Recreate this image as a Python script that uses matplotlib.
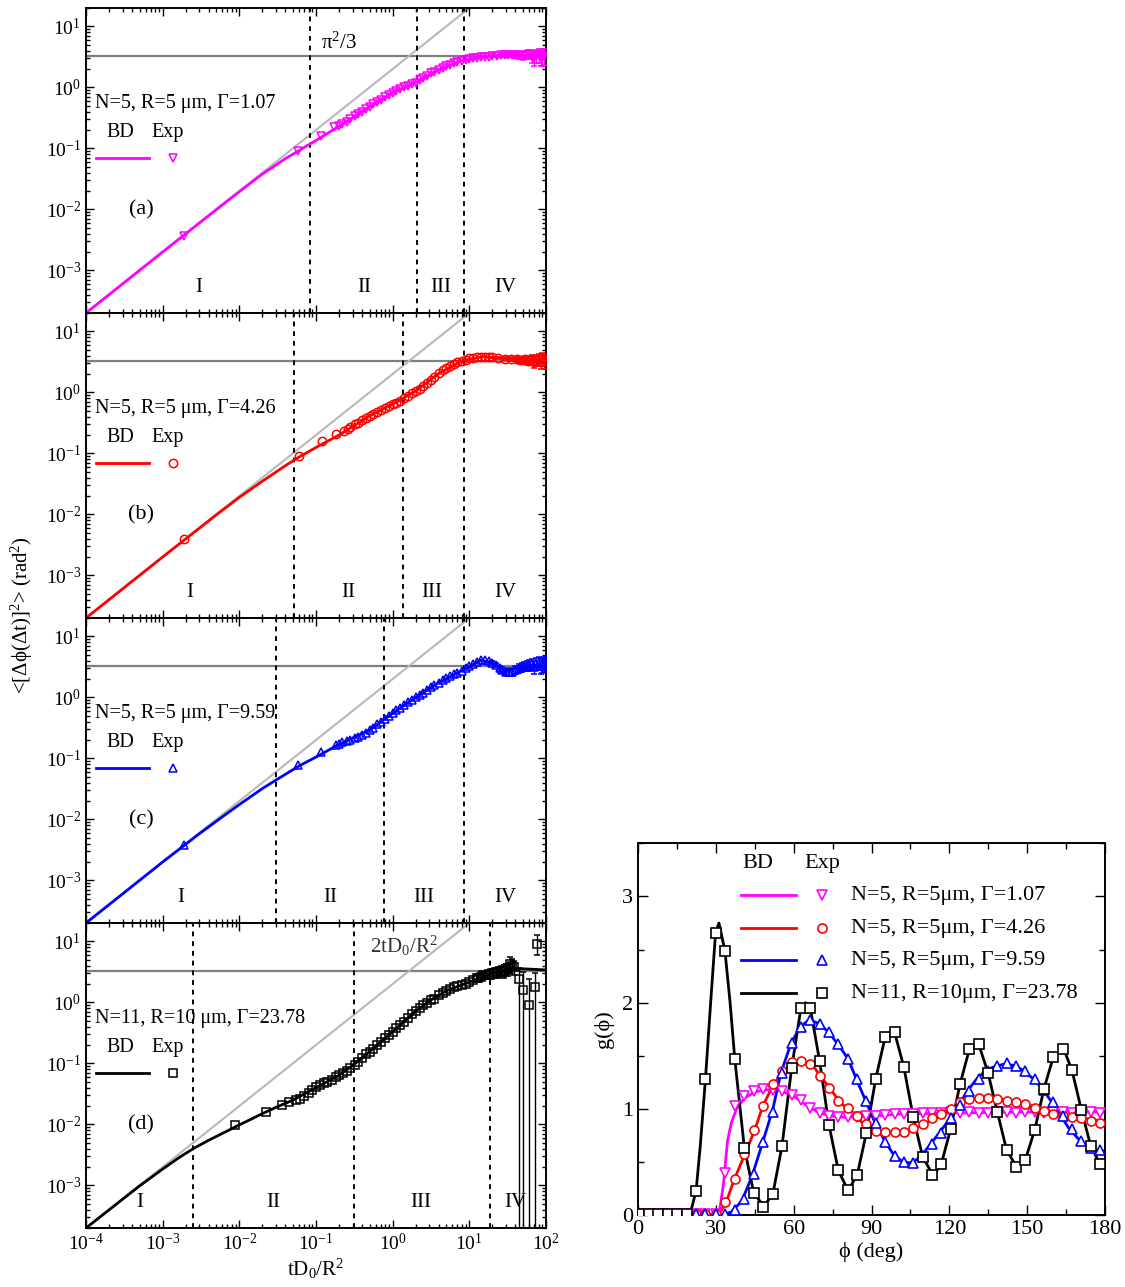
import numpy as np
import matplotlib
matplotlib.use("Agg")
from matplotlib import pyplot as plt
from matplotlib.ticker import FixedLocator, NullFormatter, MultipleLocator, LogLocator

plt.rcParams['font.family'] = ['Liberation Serif', 'DejaVu Serif']
plt.rcParams['mathtext.fontset'] = 'custom'
plt.rcParams['mathtext.rm'] = 'Liberation Serif'
plt.rcParams['mathtext.it'] = 'Liberation Serif:italic'
plt.rcParams['mathtext.bf'] = 'Liberation Serif:bold'

# ---------------- left: angular MSD vs tD0/R^2 ----------------
plateau = 3.29          # pi^2/3
free_t = [1e-4, 1e1]    # 2tD0/R^2 guide line
free_msd = [2e-4, 2e1]

# (a) N=5, R=5um, Gamma=1.07
bd_t_a = [1e-4, 1e-3, 5e-3, 1e-2, 2e-2, 4e-2, 0.06, 0.1, 0.2, 0.5, 1, 2, 4, 8, 15, 30, 100]
bd_y_a = [2e-4, 2e-3, 9.9e-3, 1.95e-2, 3.8e-2, 0.068, 0.092, 0.135, 0.23, 0.48, 0.82, 1.2, 1.95,
          2.75, 3.15, 3.4, 3.3]
exp_t_a = [1.9e-3, 0.059, 0.117, 0.17, 0.2, 0.22, 0.25, 0.28, 0.32, 0.35, 0.4, 0.45, 0.5, 0.56,
           0.63, 0.7, 0.8, 0.9, 1.0, 1.12, 1.26, 1.4, 1.6, 1.8, 2.0, 2.24, 2.5, 2.8, 3.2, 3.5,
           4.0, 4.5, 5.0, 5.6, 6.3, 7.0, 8.0, 9.0, 10, 11.2, 12.6, 14, 16, 18]
exp_y_a = [3.7e-3, 0.089, 0.158, 0.22, 0.23, 0.25, 0.275, 0.30, 0.335, 0.36, 0.40, 0.44, 0.48,
           0.525, 0.575, 0.62, 0.69, 0.755, 0.82, 0.88, 0.95, 1.0, 1.06, 1.12, 1.2, 1.31, 1.42,
           1.55, 1.7, 1.8, 1.95, 2.08, 2.2, 2.35, 2.5, 2.62, 2.75, 2.85, 2.93, 3.0, 3.05, 3.1,
           3.15, 3.2]
err_t_a = [20, 23, 26, 29, 32, 36, 40, 45, 50, 55, 60, 65, 70, 75, 80, 85, 90, 95]
err_y_a = [3.3, 3.3, 3.35, 3.4, 3.4, 3.4, 3.4, 3.35, 3.3, 3.4, 3.5, 3.2, 3.0, 3.3, 3.4, 3.1, 3.2, 3.3]
err_e_a = [0.15, 0.15, 0.2, 0.2, 0.25, 0.3, 0.35, 0.4, 0.45, 0.5, 0.6, 0.7, 0.8, 0.8, 0.9, 0.9,
           1.0, 1.0]

# (b) N=5, R=5um, Gamma=4.26
bd_t_b = [1e-4, 1e-3, 5e-3, 1e-2, 2e-2, 4e-2, 0.06, 0.1, 0.2, 0.5, 1, 2, 4, 8, 15, 30, 100]
bd_y_b = [2e-4, 2e-3, 9.8e-3, 1.9e-2, 3.5e-2, 0.063, 0.087, 0.125, 0.2, 0.41, 0.64, 1.05, 2.05,
          3.3, 3.85, 3.6, 3.4]
exp_t_b = [1.9e-3, 0.06, 0.12, 0.18, 0.235, 0.26, 0.28, 0.32, 0.35, 0.4, 0.45, 0.5, 0.56, 0.63,
           0.7, 0.8, 0.9, 1.0, 1.12, 1.26, 1.4, 1.6, 1.8, 2.0, 2.24, 2.5, 2.8, 3.2, 3.5, 4.0,
           4.5, 5.0, 5.6, 6.3, 7.0, 8.0, 9.0, 10, 11.2, 12.6, 14, 16, 18]
exp_y_b = [3.9e-3, 0.089, 0.158, 0.21, 0.236, 0.25, 0.27, 0.30, 0.32, 0.35, 0.38, 0.41, 0.44,
           0.48, 0.52, 0.56, 0.6, 0.64, 0.68, 0.72, 0.8, 0.88, 0.96, 1.05, 1.15, 1.27, 1.43,
           1.62, 1.78, 2.05, 2.3, 2.5, 2.75, 2.95, 3.1, 3.3, 3.45, 3.6, 3.7, 3.8, 3.85, 3.85, 3.8]
err_t_b = [20, 24, 29, 35, 42, 46, 50, 54, 58, 62, 66, 70, 75, 80, 85, 90, 95]
err_y_b = [3.75, 3.65, 3.55, 3.5, 3.5, 3.45, 3.4, 3.5, 3.3, 3.4, 3.5, 3.2, 3.4, 3.5, 3.2, 3.6, 3.3]
err_e_b = [0.1, 0.15, 0.2, 0.25, 0.3, 0.35, 0.4, 0.45, 0.5, 0.55, 0.6, 0.65, 0.7, 0.75, 0.8, 0.85,
           0.9]

# (c) N=5, R=5um, Gamma=9.59
bd_t_c = [1e-4, 1e-3, 3e-3, 6e-3, 1e-2, 2e-2, 3e-2, 0.06, 0.1, 0.2, 0.5, 1, 2, 4, 8, 14, 20, 30,
          50, 100]
bd_y_c = [2e-4, 2e-3, 5.8e-3, 1.1e-2, 1.75e-2, 3.2e-2, 4.4e-2, 0.075, 0.105, 0.17, 0.29, 0.55,
          1.0, 1.75, 2.75, 4.05, 3.7, 2.7, 3.2, 3.5]
exp_t_c = [1.9e-3, 0.059, 0.117, 0.18, 0.2, 0.22, 0.25, 0.28, 0.32, 0.35, 0.4, 0.45, 0.5, 0.56,
           0.63, 0.7, 0.8, 0.9, 1.0, 1.12, 1.26, 1.4, 1.6, 1.8, 2.0, 2.24, 2.5, 2.8, 3.2, 3.5,
           4.0, 4.5, 5.0, 5.6, 6.3, 7.0, 8.0, 9.0, 10, 11.2, 12.6, 14, 16, 18]
exp_y_c = [3.8e-3, 0.078, 0.126, 0.166, 0.175, 0.183, 0.193, 0.20, 0.215, 0.225, 0.24, 0.265,
           0.29, 0.32, 0.36, 0.40, 0.45, 0.5, 0.55, 0.61, 0.67, 0.74, 0.83, 0.92, 1.0, 1.1,
           1.2, 1.32, 1.48, 1.6, 1.75, 1.9, 2.05, 2.2, 2.4, 2.55, 2.75, 3.0, 3.25, 3.5, 3.8,
           4.05, 4.1, 3.9]
err_t_c = [20, 22, 25, 27, 30, 33, 36, 40, 44, 48, 52, 56, 60, 65, 70, 75, 80, 85, 90, 95, 100]
err_y_c = [3.7, 3.4, 3.0, 2.85, 2.65, 2.6, 2.65, 2.85, 3.0, 3.1, 3.25, 3.3, 3.4, 3.5, 3.2, 3.6,
           3.7, 3.3, 3.5, 3.6, 3.8]
err_e_c = [0.2, 0.2, 0.25, 0.3, 0.35, 0.35, 0.4, 0.45, 0.5, 0.5, 0.55, 0.6, 0.65, 0.7, 0.75, 0.8,
           0.85, 0.9, 0.95, 1.0, 1.0]

# (d) N=11, R=10um, Gamma=23.78
bd_t_d = [1e-4, 5e-4, 1e-3, 1.6e-3, 2.5e-3, 4e-3, 6e-3, 1e-2, 2e-2, 3e-2, 5e-2, 0.1, 0.2, 0.3,
          0.5, 1, 2, 3, 5, 10, 20, 40, 100]
bd_y_d = [2e-4, 9.8e-4, 1.85e-3, 2.8e-3, 4.0e-3, 5.5e-3, 7.1e-3, 9.8e-3, 0.015, 0.019, 0.025,
          0.04, 0.064, 0.092, 0.155, 0.33, 0.72, 1.05, 1.55, 2.15, 3.0, 3.6, 3.4]
exp_t_d = [8.9e-3, 0.0224, 0.036, 0.045, 0.055, 0.062, 0.07, 0.08, 0.09, 0.1, 0.112, 0.126, 0.14,
           0.16, 0.18, 0.2, 0.224, 0.25, 0.28, 0.32, 0.35, 0.4, 0.45, 0.5, 0.56, 0.63, 0.7, 0.8,
           0.9, 1.0, 1.12, 1.26, 1.4, 1.6, 1.8, 2.0, 2.24, 2.5, 2.8, 3.2, 3.5, 4.0, 4.5, 5.0,
           5.6, 6.3, 7.0, 8.0, 9.0, 10, 11.2, 12.6]
exp_y_d = [9.6e-3, 0.016, 0.0204, 0.023, 0.025, 0.026, 0.029, 0.033, 0.037, 0.041, 0.044, 0.047,
           0.05, 0.054, 0.059, 0.064, 0.07, 0.076, 0.084, 0.095, 0.105, 0.123, 0.14, 0.155,
           0.175, 0.2, 0.222, 0.26, 0.295, 0.33, 0.38, 0.43, 0.48, 0.56, 0.65, 0.73, 0.8, 0.9,
           0.99, 1.08, 1.15, 1.3, 1.42, 1.55, 1.67, 1.78, 1.85, 1.93, 2.0, 2.15, 2.35, 2.55]
err_t_d = [13, 14, 15, 16.5, 18, 20, 22, 24, 26, 28, 30, 32, 34, 36, 38, 77]
err_y_d = [2.55, 2.65, 2.77, 2.85, 2.9, 3.0, 3.1, 3.15, 3.3, 3.3, 3.5, 3.6, 4.3, 4.0, 3.8, 9.2]
err_e_d = [0.3, 0.35, 0.4, 0.45, 0.5, 0.55, 0.6, 0.65, 0.7, 0.75, 0.8, 0.9, 1.3, 1.1, 1.0, 3.3]
tail_t_d = [45, 50, 60, 72]        # points whose lower error runs off the axis
tail_y_d = [2.4, 1.6, 0.9, 1.8]
tail_up_d = [1.2, 1.5, 1.5, 1.2]

panels = [
    dict(tag='(a)', label='N=5, R=5 μm, Γ=1.07', color='#ff00ff', marker='v',
         bd=(bd_t_a, bd_y_a), exp=(exp_t_a, exp_y_a), err=(err_t_a, err_y_a, err_e_a),
         vlines=[0.083, 2.1, 8.5], romans=[-2.53, -0.37, 0.63, 1.47]),
    dict(tag='(b)', label='N=5, R=5 μm, Γ=4.26', color='#ff0000', marker='o',
         bd=(bd_t_b, bd_y_b), exp=(exp_t_b, exp_y_b), err=(err_t_b, err_y_b, err_e_b),
         vlines=[0.051, 1.35, 8.5], romans=[-2.65, -0.58, 0.51, 1.47]),
    dict(tag='(c)', label='N=5, R=5 μm, Γ=9.59', color='#0000ff', marker='^',
         bd=(bd_t_c, bd_y_c), exp=(exp_t_c, exp_y_c), err=(err_t_c, err_y_c, err_e_c),
         vlines=[0.030, 0.78, 8.5], romans=[-2.77, -0.81, 0.40, 1.47]),
    dict(tag='(d)', label='N=11, R=10 μm, Γ=23.78', color='#000000', marker='s',
         bd=(bd_t_d, bd_y_d), exp=(exp_t_d, exp_y_d), err=(err_t_d, err_y_d, err_e_d),
         vlines=[0.0025, 0.31, 18.5], romans=[-3.30, -1.56, 0.37, 1.60]),
]
roman_names = ['I', 'II', 'III', 'IV']

# ---------------- right: g(phi) ----------------
phi_exp = [0.5, 4.2, 7.8, 11.4, 15.0, 18.7, 22.4, 26.0, 29.9, 33.5, 37.3, 41.0, 44.6, 48.2, 52.0,
           55.5, 59.2, 62.8, 66.4, 70.0, 73.6, 77.2, 80.8, 84.5, 88.0, 91.6, 95.3, 98.9, 102.5,
           106.1, 109.7, 113.3, 116.9, 120.5, 124.1, 127.7, 131.3, 134.9, 138.5, 142.1, 145.7,
           149.3, 152.9, 156.5, 160.1, 163.7, 167.3, 170.9, 174.5, 178.1]
g_exp_107 = [0.01, 0.01, 0.01, 0.01, 0.01, 0.01, 0.01, 0.01, 0.01, 0.40, 1.03, 1.12, 1.17, 1.19,
             1.18, 1.17, 1.13, 1.08, 1.01, 0.96, 0.93, 0.92, 0.92, 0.92, 0.93, 0.93, 0.94, 0.95,
             0.95, 0.95, 0.96, 0.96, 0.96, 0.97, 0.96, 0.97, 0.96, 0.96, 0.97, 0.97, 0.96, 0.97,
             0.97, 0.96, 0.97, 0.97, 0.96, 0.97, 0.97, 0.96]
g_exp_426 = [0.01, 0.01, 0.01, 0.01, 0.01, 0.01, 0.01, 0.01, 0.01, 0.12, 0.34, 0.57, 0.80, 1.03,
             1.23, 1.36, 1.44, 1.45, 1.42, 1.31, 1.20, 1.07, 1.01, 0.93, 0.86, 0.79, 0.78, 0.78,
             0.78, 0.82, 0.86, 0.91, 0.95, 1.00, 1.06, 1.09, 1.10, 1.10, 1.09, 1.075, 1.06, 1.045,
             1.01, 0.98, 0.95, 0.93, 0.92, 0.91, 0.89, 0.87]
g_exp_959 = [0.01, 0.01, 0.01, 0.01, 0.01, 0.01, 0.01, 0.01, 0.01, 0.01, 0.05, 0.15, 0.39, 0.69,
             0.97, 1.34, 1.62, 1.77, 1.84, 1.80, 1.72, 1.61, 1.47, 1.28, 1.07, 0.87, 0.69, 0.56,
             0.50, 0.49, 0.56, 0.67, 0.77, 0.91, 1.04, 1.17, 1.28, 1.36, 1.40, 1.43, 1.40, 1.36,
             1.28, 1.18, 1.06, 0.93, 0.81, 0.70, 0.63, 0.61]
g_exp_2378 = [0.01, 0.01, 0.01, 0.01, 0.01, 0.01, 0.23, 1.28, 2.66, 2.49, 1.47, 0.63, 0.21, 0.08,
              0.20, 0.65, 1.38, 1.95, 1.95, 1.45, 0.85, 0.42, 0.24, 0.38, 0.77, 1.28, 1.68, 1.72,
              1.39, 0.92, 0.55, 0.38, 0.48, 0.81, 1.23, 1.56, 1.61, 1.34, 0.97, 0.61, 0.45, 0.52,
              0.80, 1.19, 1.49, 1.56, 1.37, 0.99, 0.65, 0.48]

phi_bd_107 = [0, 30, 31.5, 33, 34.5, 36, 38, 41, 45, 50, 55, 60, 65, 70, 75, 80, 90, 100, 120, 150, 180]
g_bd_107 = [0, 0, 0.05, 0.3, 0.7, 0.87, 1.0, 1.1, 1.16, 1.18, 1.17, 1.12, 1.03, 0.96, 0.93, 0.92,
            0.93, 0.95, 0.96, 0.97, 0.97]
phi_bd_426 = [0, 30, 32, 34, 37, 41, 45, 48, 52, 56, 60, 63, 67, 70, 74, 78, 82, 86, 90, 95, 100,
              105, 110, 115, 120, 125, 130, 135, 140, 145, 150, 155, 160, 165, 170, 175, 180]
g_bd_426 = [0, 0, 0.04, 0.12, 0.33, 0.56, 0.8, 1.02, 1.22, 1.36, 1.43, 1.45, 1.42, 1.32, 1.19, 1.06,
            0.97, 0.88, 0.81, 0.775, 0.775, 0.8, 0.85, 0.92, 0.99, 1.06, 1.1, 1.105, 1.09, 1.065,
            1.045, 1.0, 0.96, 0.93, 0.915, 0.9, 0.88]
phi_bd_959 = [0, 33, 36, 40, 44, 48, 52, 55, 59, 62.5, 66, 70, 73.5, 77, 81, 84, 87.5, 91, 95, 98.5,
              102, 105.5, 109, 112.5, 116, 120, 124, 127, 130.5, 134, 137.5, 141, 144.5, 148, 152,
              155.5, 159, 162.5, 166, 170, 173.5, 177, 180]
g_bd_959 = [0, 0, 0.03, 0.13, 0.37, 0.68, 1.0, 1.33, 1.62, 1.77, 1.84, 1.80, 1.72, 1.61, 1.47, 1.29,
            1.09, 0.89, 0.7, 0.57, 0.5, 0.49, 0.55, 0.66, 0.77, 0.9, 1.05, 1.17, 1.28, 1.36, 1.40,
            1.42, 1.41, 1.37, 1.29, 1.2, 1.08, 0.95, 0.82, 0.71, 0.64, 0.61, 0.6]
phi_bd_2378 = [0, 20, 22.4, 24, 26, 28, 29.9, 31.2, 33.5, 35.5, 37.3, 41, 44.6, 48.5, 52, 55.5, 59.2,
               62.8, 64.6, 66.4, 70, 73.6, 77.2, 81, 84.5, 88, 91.6, 95.3, 97.8, 98.9, 102.5,
               106.1, 109.7, 113.8, 116.9, 120.5, 124.1, 127.7, 130.5, 131.3, 134.9, 138.5,
               142.1, 146, 149.3, 152.9, 156.5, 160.1, 164, 167.3, 170.9, 174.5, 178.1, 180]
g_bd_2378 = [0, 0, 0.23, 0.65, 1.28, 2.0, 2.66, 2.75, 2.49, 2.0, 1.47, 0.63, 0.21, 0.08, 0.2, 0.65,
             1.38, 1.95, 2.0, 1.95, 1.45, 0.85, 0.42, 0.23, 0.38, 0.77, 1.28, 1.68, 1.74, 1.72,
             1.39, 0.92, 0.55, 0.37, 0.48, 0.81, 1.23, 1.56, 1.62, 1.61, 1.34, 0.97, 0.61, 0.45,
             0.52, 0.8, 1.19, 1.49, 1.57, 1.36, 0.99, 0.65, 0.48, 0.45]

g_series = [
    ('N=5, R=5μm, Γ=1.07', '#ff00ff', 'v', phi_bd_107, g_bd_107, g_exp_107),
    ('N=5, R=5μm, Γ=4.26', '#ff0000', 'o', phi_bd_426, g_bd_426, g_exp_426),
    ('N=5, R=5μm, Γ=9.59', '#0000ff', '^', phi_bd_959, g_bd_959, g_exp_959),
    ('N=11, R=10μm, Γ=23.78', '#000000', 's', phi_bd_2378, g_bd_2378, g_exp_2378),
]

# ---------------- figure ----------------
fig = plt.figure(figsize=(11.25, 12.87), dpi=100)

lx, lw_ = 86 / 1125, 460 / 1125
ph = 305 / 1287
bottoms = [1 - 313 / 1287, 1 - 618 / 1287, 1 - 923 / 1287, 1 - 1228 / 1287]

for i, p in enumerate(panels):
    ax = fig.add_axes([lx, bottoms[i], lw_, ph])
    c = p['color']
    ax.set_xscale('log')
    ax.set_yscale('log')
    ax.set_xlim(1e-4, 1e2)
    ax.set_ylim(2e-4, 2e1)

    ax.axhline(plateau, color='#7f7f7f', lw=1.6, zorder=1)
    ax.plot(free_t, free_msd, color='#b8b8b8', lw=1.5, zorder=1)
    for v in p['vlines']:
        ax.axvline(v, color='k', lw=1.4, ls=(0, (2.5, 2.5)), zorder=1)

    ax.plot(p['bd'][0], p['bd'][1], color=c, lw=2, zorder=2)
    ax.plot(p['exp'][0], p['exp'][1], ls='none', marker=p['marker'], ms=6,
            mfc='none', mec=c, mew=1.1, zorder=3)
    et, ey, ee = p['err']
    ax.errorbar(et, ey, yerr=ee, ls='none', marker=p['marker'], ms=6, mfc='none',
                mec=c, mew=1.1, ecolor=c, elinewidth=1.0, capsize=2.5, zorder=3)
    if p['tag'] == '(d)':
        lo = [y - 1e-6 for y in tail_y_d]
        ax.errorbar(tail_t_d, tail_y_d, yerr=[lo, tail_up_d], ls='none', marker='s', ms=6,
                    mfc='none', mec=c, mew=1.1, ecolor=c, elinewidth=1.0, capsize=2.5, zorder=3)

    # region labels
    tr = ax.get_xaxis_transform()
    for name, lg in zip(roman_names, p['romans']):
        ax.text(10 ** lg, 0.085, name, transform=tr, ha='center', va='center', fontsize=15)

    # inline legend
    ax.text(0.02, 0.687, p['label'], transform=ax.transAxes, va='center', fontsize=14.5)
    ax.text(0.045, 0.593, 'BD', transform=ax.transAxes, va='center', fontsize=14.5)
    ax.text(0.143, 0.593, 'Exp', transform=ax.transAxes, va='center', fontsize=14.5)
    ax.plot([0.022, 0.136], [0.507, 0.507], transform=ax.transAxes, color=c, lw=2)
    ax.plot([0.189], [0.507], transform=ax.transAxes, marker=p['marker'], ms=6,
            mfc='none', mec=c, mew=1.1)
    ax.text(0.12, 0.338, p['tag'], transform=ax.transAxes, ha='center', va='center', fontsize=16)

    if i == 0:
        ax.text(0.55, 0.885, 'π$^2$/3', transform=ax.transAxes, ha='center', va='center',
                fontsize=15)
    if i == 3:
        ax.text(0.69, 0.925, '2tD$_0$/R$^2$', transform=ax.transAxes, ha='center',
                va='center', fontsize=15, color='#333333')

    ax.xaxis.set_major_locator(FixedLocator([1e-4, 1e-3, 1e-2, 1e-1, 1e0, 1e1, 1e2]))
    ax.xaxis.set_minor_locator(LogLocator(base=10, subs=np.arange(2, 10), numticks=20))
    ax.yaxis.set_major_locator(FixedLocator([1e-3, 1e-2, 1e-1, 1e0, 1e1]))
    ax.yaxis.set_minor_locator(LogLocator(base=10, subs=np.arange(2, 10), numticks=20))
    ax.yaxis.set_minor_formatter(NullFormatter())
    ax.xaxis.set_minor_formatter(NullFormatter())
    ax.tick_params(which='both', direction='in', top=True, right=True, width=1.0)
    ax.tick_params(which='major', length=6, labelsize=14)
    ax.tick_params(which='minor', length=3)
    if i < 3:
        ax.tick_params(axis='x', labelbottom=False)
    else:
        ax.set_xlabel('tD$_0$/R$^2$', fontsize=15, labelpad=2)
    for s in ax.spines.values():
        s.set_linewidth(1.4)

fig.text(22 / 1125, 1 - 615 / 1287, '<[Δϕ(Δt)]$^2$> (rad$^2$)', rotation=90,
         ha='center', va='center', fontsize=15)

# right panel
axr = fig.add_axes([638 / 1125, 1 - 1215 / 1287, 467 / 1125, 371.6 / 1287])
for name, c, m, xb, yb, ye in g_series:
    axr.plot(xb, yb, color=c, lw=2, zorder=2)
    axr.plot(phi_exp, ye, ls='none', marker=m, ms=6.5, mfc='white', mec=c, mew=1.2, zorder=3)

axr.set_xlim(0, 180)
axr.set_ylim(0, 3.5)
axr.xaxis.set_major_locator(MultipleLocator(30))
axr.xaxis.set_minor_locator(MultipleLocator(15))
axr.yaxis.set_major_locator(MultipleLocator(1))
axr.yaxis.set_minor_locator(MultipleLocator(0.5))
axr.tick_params(which='both', direction='in', top=True, right=True, width=1.0)
axr.tick_params(which='major', length=7, labelsize=16)
axr.tick_params(which='minor', length=4)
axr.set_xlabel('ϕ (deg)', fontsize=16, labelpad=2)
axr.set_ylabel('g(ϕ)', fontsize=16, labelpad=6)
for s in axr.spines.values():
    s.set_linewidth(1.4)

axr.text(0.256, 0.946, 'BD', transform=axr.transAxes, ha='center', va='center', fontsize=16)
axr.text(0.395, 0.946, 'Exp', transform=axr.transAxes, ha='center', va='center', fontsize=16)
rows = [0.861, 0.771, 0.685, 0.597]
for (name, c, m, xb, yb, ye), ry in zip(g_series, rows):
    axr.plot([0.22, 0.338], [ry, ry], transform=axr.transAxes, color=c, lw=2)
    axr.plot([0.395], [ry], transform=axr.transAxes, marker=m, ms=6.5, mfc='white',
             mec=c, mew=1.2)
    axr.text(0.457, ry, name, transform=axr.transAxes, va='center', fontsize=16)

fig.savefig('out.png', dpi=100)
